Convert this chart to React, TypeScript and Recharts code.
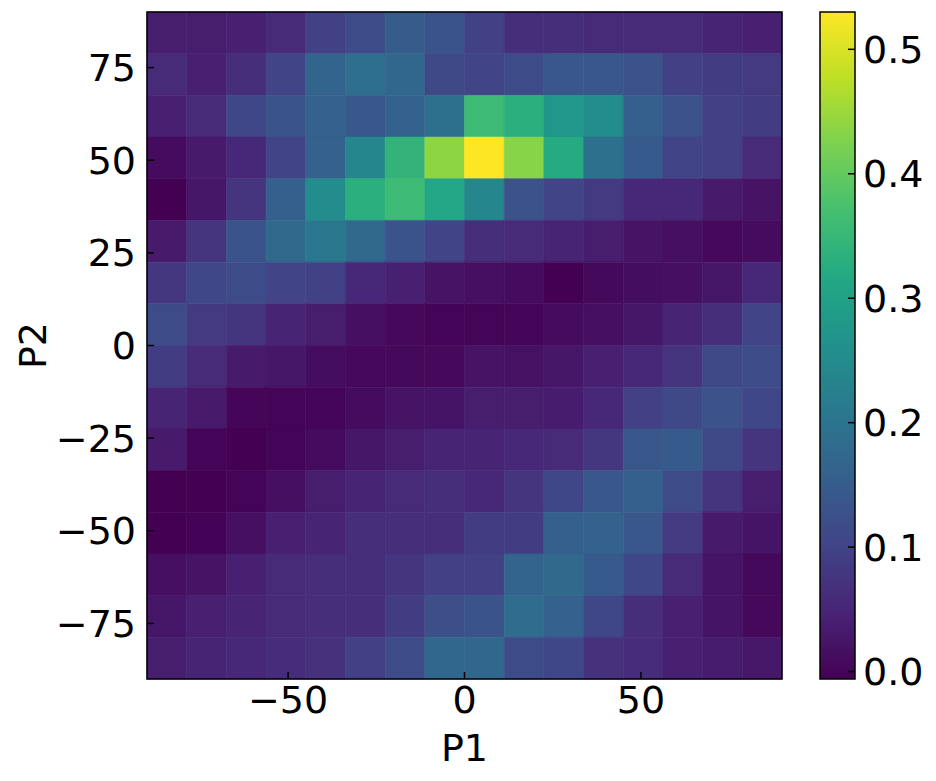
import React from 'react';
import { ScatterChart, Scatter, XAxis, YAxis, ReferenceArea, Label } from 'recharts';

// bin edges along both P1 and P2 (16 bins)
const binEdges = [-90, -78.75, -67.5, -56.25, -45, -33.75, -22.5, -11.25, 0, 11.25, 22.5, 33.75, 45, 56.25, 67.5, 78.75, 90];

const xTicks = [-50, 0, 50];
const yTicks = [-75, -50, -25, 0, 25, 50, 75];
const barTicks = [0, 0.1, 0.2, 0.3, 0.4, 0.5];

const vMin = -0.006;
const vMax = 0.53;

// density per row, top row (P2 = 78.75..90) first, columns P1 = -90 -> 90
const rowP2_84 = [0.037, 0.037, 0.042, 0.058, 0.096, 0.117, 0.149, 0.133, 0.096, 0.064, 0.064, 0.058, 0.058, 0.058, 0.048, 0.042];
const rowP2_73 = [0.058, 0.042, 0.064, 0.101, 0.166, 0.187, 0.171, 0.112, 0.101, 0.117, 0.139, 0.139, 0.128, 0.096, 0.090, 0.085];
const rowP2_62 = [0.042, 0.058, 0.107, 0.133, 0.160, 0.139, 0.160, 0.192, 0.358, 0.332, 0.273, 0.251, 0.155, 0.128, 0.096, 0.090];
const rowP2_51 = [0.010, 0.032, 0.053, 0.101, 0.160, 0.241, 0.342, 0.439, 0.530, 0.434, 0.321, 0.192, 0.144, 0.101, 0.096, 0.058];
const rowP2_39 = [-0.006, 0.026, 0.074, 0.155, 0.251, 0.332, 0.358, 0.310, 0.241, 0.128, 0.101, 0.085, 0.053, 0.053, 0.032, 0.021];
const rowP2_28 = [0.032, 0.074, 0.133, 0.176, 0.208, 0.176, 0.133, 0.101, 0.064, 0.058, 0.048, 0.037, 0.021, 0.015, 0.005, 0.010];
const rowP2_17 = [0.080, 0.107, 0.117, 0.101, 0.096, 0.053, 0.042, 0.021, 0.015, 0.010, -0.006, 0.007, 0.013, 0.015, 0.026, 0.053];
const rowP2_6 = [0.117, 0.085, 0.074, 0.048, 0.037, 0.015, 0.005, -0.001, -0.001, 0.002, 0.010, 0.015, 0.026, 0.048, 0.064, 0.101];
const rowP2_m6 = [0.090, 0.058, 0.032, 0.026, 0.013, 0.005, 0.007, 0.005, 0.021, 0.018, 0.026, 0.042, 0.053, 0.074, 0.112, 0.117];
const rowP2_m17 = [0.048, 0.032, 0.002, -0.001, -0.001, 0.010, 0.021, 0.023, 0.037, 0.037, 0.034, 0.053, 0.096, 0.112, 0.128, 0.107];
const rowP2_m28 = [0.032, -0.001, -0.006, -0.001, 0.010, 0.026, 0.037, 0.048, 0.048, 0.053, 0.058, 0.080, 0.139, 0.144, 0.112, 0.074];
const rowP2_m39 = [-0.006, -0.006, -0.001, 0.015, 0.037, 0.048, 0.058, 0.064, 0.053, 0.074, 0.107, 0.139, 0.155, 0.117, 0.074, 0.037];
const rowP2_m51 = [-0.006, -0.003, 0.015, 0.042, 0.048, 0.064, 0.064, 0.064, 0.090, 0.090, 0.155, 0.160, 0.139, 0.085, 0.032, 0.023];
const rowP2_m62 = [0.015, 0.021, 0.042, 0.058, 0.064, 0.064, 0.074, 0.096, 0.096, 0.166, 0.176, 0.144, 0.107, 0.058, 0.023, 0.007];
const rowP2_m73 = [0.026, 0.042, 0.048, 0.058, 0.064, 0.064, 0.090, 0.123, 0.133, 0.182, 0.160, 0.107, 0.064, 0.042, 0.023, 0.005];
const rowP2_m84 = [0.037, 0.048, 0.053, 0.061, 0.069, 0.096, 0.117, 0.171, 0.171, 0.117, 0.107, 0.069, 0.061, 0.042, 0.034, 0.029];

const rows = [
  rowP2_84, rowP2_73, rowP2_62, rowP2_51, rowP2_39, rowP2_28, rowP2_17, rowP2_6,
  rowP2_m6, rowP2_m17, rowP2_m28, rowP2_m39, rowP2_m51, rowP2_m62, rowP2_m73, rowP2_m84,
];

const viridis = ['#440154', '#482475', '#414487', '#355f8d', '#2a788e', '#21918c', '#22a884', '#44bf70', '#7ad151', '#bddf26', '#fde725'];

const hexToRgb = (h: string) => [1, 3, 5].map((i) => parseInt(h.slice(i, i + 2), 16));

function colorFor(v: number) {
  const t = Math.max(0, Math.min(1, (v - vMin) / (vMax - vMin)));
  const p = t * 10;
  const i = Math.min(9, Math.floor(p));
  const f = p - i;
  const a = hexToRgb(viridis[i]);
  const b = hexToRgb(viridis[i + 1]);
  const c = a.map((x, k) => Math.round(x + (b[k] - x) * f));
  return `rgb(${c[0]},${c[1]},${c[2]})`;
}

// build cells (top row = highest P2)
const cells: { x1: number; x2: number; y1: number; y2: number; x: number; y: number; v: number }[] = [];
rows.forEach((row, r) => {
  const yHi = binEdges[16 - r];
  const yLo = binEdges[15 - r];
  row.forEach((v, c) => {
    cells.push({ x1: binEdges[c], x2: binEdges[c + 1], y1: yLo, y2: yHi, x: (binEdges[c] + binEdges[c + 1]) / 2, y: (yLo + yHi) / 2, v });
  });
});

const minus = (v: number) => String(v).replace('-', '\u2212');
const tickStyle = { fontSize: 38, fill: '#000' };
const tickLineStyle = { stroke: '#000', strokeWidth: 1.5 };

export default function App() {
  return (
    <div style={{ position: 'absolute', left: 0, top: 0, width: 936, height: 781, background: '#fff', fontFamily: 'DejaVu Sans' }}>
      <div style={{ position: 'absolute', left: 0, top: 0 }}>
        <ScatterChart width={800} height={781} margin={{ top: 12, right: 18, bottom: 12, left: 10 }}>
          {cells.map((c, i) => {
            const col = colorFor(c.v);
            return (
              <ReferenceArea key={i} x1={c.x1} x2={c.x2} y1={c.y1} y2={c.y2} fill={col} fillOpacity={1} stroke={col} strokeWidth={0.6} />
            );
          })}
          <ReferenceArea x1={-90} x2={90} y1={-90} y2={90} fill="none" stroke="#000" strokeWidth={1.5} />
          <Scatter data={cells} dataKey="y" fill="none" shape={() => null} isAnimationActive={false} />
          <XAxis
            type="number"
            dataKey="x"
            domain={[-90, 90]}
            ticks={xTicks}
            allowDataOverflow
            height={90}
            axisLine={false}
            tickLine={tickLineStyle}
            tickSize={-7}
            tickMargin={14}
            tick={tickStyle}
            tickFormatter={minus}
          >
            <Label value="P1" position="insideBottom" offset={8} style={{ fontSize: 38, fill: '#000' }} />
          </XAxis>
          <YAxis
            type="number"
            dataKey="y"
            domain={[-90, 90]}
            ticks={yTicks}
            allowDataOverflow
            width={137}
            axisLine={false}
            tickLine={tickLineStyle}
            tickSize={-7}
            tickMargin={18}
            tick={tickStyle}
            tickFormatter={minus}
          >
            <Label value="P2" angle={-90} position="insideLeft" offset={23} style={{ fontSize: 38, fill: '#000', textAnchor: 'middle' }} />
          </YAxis>
        </ScatterChart>
      </div>
      <div style={{ position: 'absolute', left: 800, top: 0 }}>
        <ScatterChart width={136} height={781} margin={{ top: 12, right: 0, bottom: 102, left: 20 }}>
          <defs>
            <linearGradient id="viridisBar" x1="0" y1="1" x2="0" y2="0">
              {viridis.map((c, i) => (
                <stop key={i} offset={`${i * 10}%`} stopColor={c} />
              ))}
            </linearGradient>
          </defs>
          <ReferenceArea x1={0} x2={1} y1={vMin} y2={vMax} fill="url(#viridisBar)" fillOpacity={1} stroke="#000" strokeWidth={1.5} />
          <Scatter data={[{ x: 0.5, y: 0.2 }]} dataKey="y" fill="none" shape={() => null} isAnimationActive={false} />
          <XAxis type="number" dataKey="x" domain={[0, 1]} hide allowDataOverflow />
          <YAxis
            type="number"
            dataKey="y"
            orientation="right"
            domain={[vMin, vMax]}
            ticks={barTicks}
            allowDataOverflow
            width={81}
            axisLine={false}
            tickLine={tickLineStyle}
            tickSize={-7}
            tickMargin={15}
            tick={tickStyle}
            tickFormatter={(v: number) => v.toFixed(1)}
          />
        </ScatterChart>
      </div>
    </div>
  );
}
